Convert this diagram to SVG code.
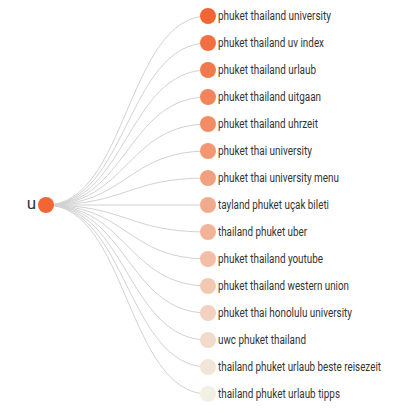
<svg xmlns="http://www.w3.org/2000/svg" width="411" height="413" viewBox="0 0 411 413">
<style>
.link{fill:none;stroke:#d2d2d2;stroke-width:1}
.leaf text{font-family:Roboto,"Liberation Sans",sans-serif;font-size:12px;fill:#333}
.root text{font-family:Roboto,"Liberation Sans",sans-serif;font-size:17px;fill:#333}
</style>
<rect width="411" height="413" fill="#ffffff"/>
<g id="links">
<path class="link" d="M46,205C127,205 127,16 208,16"/>
<path class="link" d="M46,205C127,205 127,43 208,43"/>
<path class="link" d="M46,205C127,205 127,70 208,70"/>
<path class="link" d="M46,205C127,205 127,97 208,97"/>
<path class="link" d="M46,205C127,205 127,124 208,124"/>
<path class="link" d="M46,205C127,205 127,151 208,151"/>
<path class="link" d="M46,205C127,205 127,178 208,178"/>
<path class="link" d="M46,205C127,205 127,205 208,205"/>
<path class="link" d="M46,205C127,205 127,232 208,232"/>
<path class="link" d="M46,205C127,205 127,259 208,259"/>
<path class="link" d="M46,205C127,205 127,286 208,286"/>
<path class="link" d="M46,205C127,205 127,313 208,313"/>
<path class="link" d="M46,205C127,205 127,340 208,340"/>
<path class="link" d="M46,205C127,205 127,367 208,367"/>
<path class="link" d="M46,205C127,205 127,394 208,394"/>
</g>
<g id="root" class="root"><circle cx="46" cy="205" r="8" fill="#f26535"/><text x="36" y="209" text-anchor="end">u</text></g>
<g id="n1" class="leaf"><circle cx="208" cy="16" r="8" fill="#f26535"/><text x="218" y="20" textLength="113" lengthAdjust="spacingAndGlyphs">phuket thailand university</text></g>
<g id="n2" class="leaf"><circle cx="208" cy="43" r="8" fill="#f26f41"/><text x="218" y="47" textLength="106" lengthAdjust="spacingAndGlyphs">phuket thailand uv index</text></g>
<g id="n3" class="leaf"><circle cx="208" cy="70" r="8" fill="#f2794e"/><text x="218" y="74" textLength="98" lengthAdjust="spacingAndGlyphs">phuket thailand urlaub</text></g>
<g id="n4" class="leaf"><circle cx="208" cy="97" r="8" fill="#f2835a"/><text x="218" y="101" textLength="103" lengthAdjust="spacingAndGlyphs">phuket thailand uitgaan</text></g>
<g id="n5" class="leaf"><circle cx="208" cy="124" r="8" fill="#f28c67"/><text x="218" y="128" textLength="100" lengthAdjust="spacingAndGlyphs">phuket thailand uhrzeit</text></g>
<g id="n6" class="leaf"><circle cx="208" cy="151" r="8" fill="#f29673"/><text x="218" y="155" textLength="94" lengthAdjust="spacingAndGlyphs">phuket thai university</text></g>
<g id="n7" class="leaf"><circle cx="208" cy="178" r="8" fill="#f2a080"/><text x="218" y="182" textLength="121" lengthAdjust="spacingAndGlyphs">phuket thai university menu</text></g>
<g id="n8" class="leaf"><circle cx="208" cy="205" r="8" fill="#f2aa8c"/><text x="218" y="209" textLength="111" lengthAdjust="spacingAndGlyphs">tayland phuket uçak bileti</text></g>
<g id="n9" class="leaf"><circle cx="208" cy="232" r="8" fill="#f2b498"/><text x="218" y="236" textLength="89" lengthAdjust="spacingAndGlyphs">thailand phuket uber</text></g>
<g id="n10" class="leaf"><circle cx="208" cy="259" r="8" fill="#f2bea5"/><text x="218" y="263" textLength="105" lengthAdjust="spacingAndGlyphs">phuket thailand youtube</text></g>
<g id="n11" class="leaf"><circle cx="208" cy="286" r="8" fill="#f2c8b1"/><text x="218" y="290" textLength="131" lengthAdjust="spacingAndGlyphs">phuket thailand western union</text></g>
<g id="n12" class="leaf"><circle cx="208" cy="313" r="8" fill="#f2d1be"/><text x="218" y="317" textLength="134" lengthAdjust="spacingAndGlyphs">phuket thai honolulu university</text></g>
<g id="n13" class="leaf"><circle cx="208" cy="340" r="8" fill="#f2dbca"/><text x="218" y="344" textLength="88" lengthAdjust="spacingAndGlyphs">uwc phuket thailand</text></g>
<g id="n14" class="leaf"><circle cx="208" cy="367" r="8" fill="#f2e5d7"/><text x="218" y="371" textLength="163" lengthAdjust="spacingAndGlyphs">thailand phuket urlaub beste reisezeit</text></g>
<g id="n15" class="leaf"><circle cx="208" cy="394" r="8" fill="#f2efe3"/><text x="218" y="398" textLength="122" lengthAdjust="spacingAndGlyphs">thailand phuket urlaub tipps</text></g>
</svg>
